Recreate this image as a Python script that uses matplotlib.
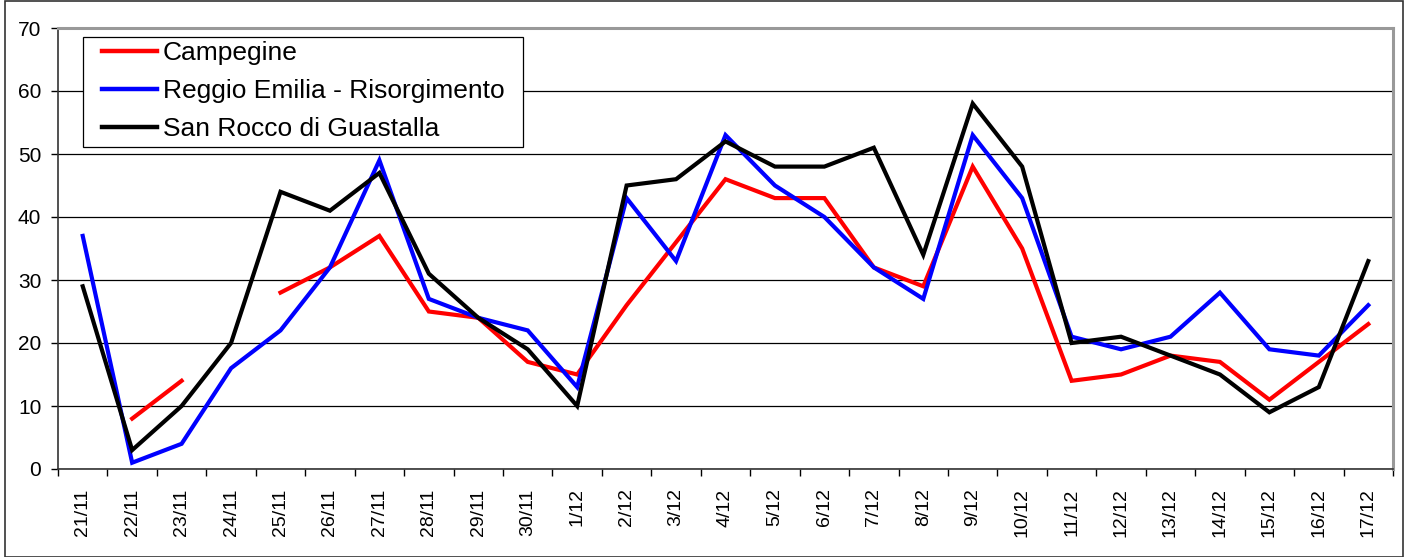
import numpy as np
import matplotlib
matplotlib.use("Agg")
import matplotlib.pyplot as plt
from matplotlib.patches import Rectangle

plt.rcParams['font.family'] = ['Liberation Sans', 'DejaVu Sans']

# Dates (categories)
dates = ['21/11', '22/11', '23/11', '24/11', '25/11', '26/11', '27/11', '28/11',
         '29/11', '30/11', '1/12', '2/12', '3/12', '4/12', '5/12', '6/12', '7/12',
         '8/12', '9/12', '10/12', '11/12', '12/12', '13/12', '14/12', '15/12',
         '16/12', '17/12']

nan = np.nan
campegine = [nan, 8, 14, nan, 28, 32, 37, 25, 24, 17, 15, 26, 36, 46, 43, 43, 32,
             29, 48, 35, 14, 15, 18, 17, 11, 17, 23]
reggio = [37, 1, 4, 16, 22, 32, 49, 27, 24, 22, 13, 43, 33, 53, 45, 40, 32,
          27, 53, 43, 21, 19, 21, 28, 19, 18, 26]
san_rocco = [29, 3, 10, 20, 44, 41, 47, 31, 24, 19, 10, 45, 46, 52, 48, 48, 51,
             34, 58, 48, 20, 21, 18, 15, 9, 13, 33]

series = [
    ('Campegine', campegine, '#ff0000'),
    ('Reggio Emilia - Risorgimento', reggio, '#0000ff'),
    ('San Rocco di Guastalla', san_rocco, '#000000'),
]

W, H = 1407, 557
L, R, T, B = 58, 1393, 28, 469   # plot area in pixels

fig = plt.figure(figsize=(W / 100, H / 100), dpi=100)
ax = fig.add_axes([L / W, 1 - B / H, (R - L) / W, (B - T) / H])


def ax_xy(px, py):
    # pixel position -> axes fraction
    return (px - L) / (R - L), (B - py) / (B - T)


x = np.arange(len(dates))
for name, vals, col in series:
    ax.plot(x, np.array(vals, dtype=float), color=col, lw=3.0, label=name,
            solid_joinstyle='miter', zorder=3)

# axes and grid
ax.set_xlim(-0.5, len(dates) - 0.5)
ax.set_ylim(0, 70)
ax.set_yticks(range(0, 71, 10))
ax.yaxis.grid(True, color='black', lw=0.9)
ax.set_axisbelow(True)
ax.tick_params(axis='y', labelsize=15, length=5, width=1, direction='out', pad=7)

ax.set_xticks(np.arange(-0.5, len(dates), 1.0))
ax.set_xticklabels([])
ax.set_xticks(x, minor=True)
ax.set_xticklabels(dates, minor=True, rotation=90)
ax.tick_params(axis='x', which='major', length=5, width=1, direction='out')
ax.tick_params(axis='x', which='minor', length=0, labelsize=14, pad=14)

for s in ['left', 'bottom']:
    ax.spines[s].set_color('#333333')
    ax.spines[s].set_linewidth(1.2)
for s in ['top', 'right']:
    ax.spines[s].set_color('#999999')
    ax.spines[s].set_linewidth(2.2)

# legend: frame drawn separately so the padding matches the original
x0, y1 = ax_xy(83, 37)
x1, y0 = ax_xy(523, 147)
ax.add_patch(Rectangle((x0, y0), x1 - x0, y1 - y0, transform=ax.transAxes,
                       facecolor='white', edgecolor='black', lw=0.9, zorder=4))
leg = ax.legend(loc='center left', bbox_to_anchor=ax_xy(102, 91),
                borderaxespad=0, fontsize=19, frameon=False,
                handlelength=2.1, handletextpad=0.2,
                labelspacing=0.53, borderpad=0)
leg.set_zorder(5)
for line in leg.get_lines():
    line.set_linewidth(3.2)

# outer border of the picture
fig.patches.append(Rectangle((5 / W, 0), 1398 / W, 0.998, transform=fig.transFigure,
                             fill=False, edgecolor='#333333', lw=1.2))

fig.savefig('out.png', dpi=100)
